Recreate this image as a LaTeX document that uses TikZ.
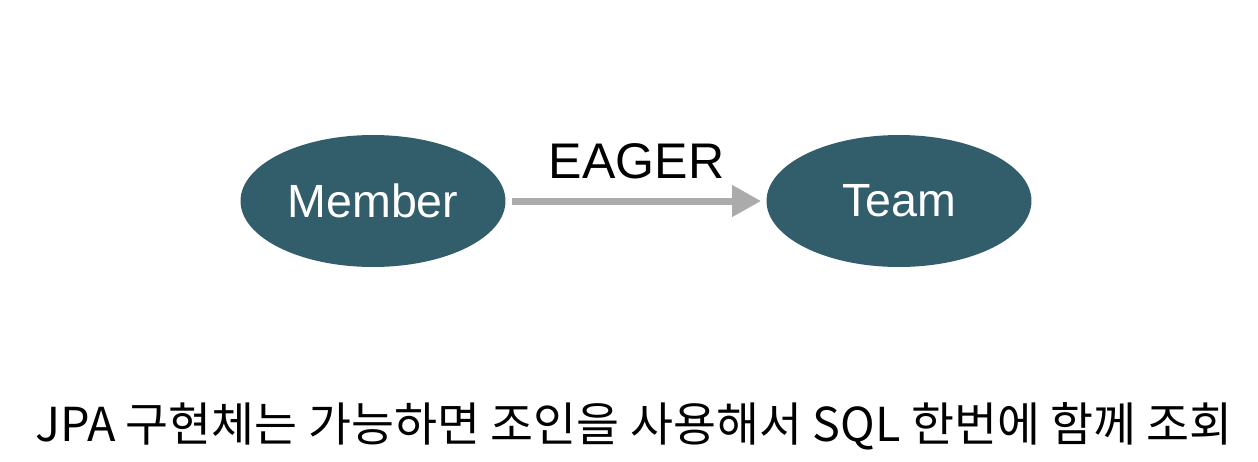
\documentclass[tikz,border=0pt]{standalone}
\usepackage{fontspec}
\setmainfont{Liberation Sans}
\newfontfamily\krfont{Noto Sans CJK KR}
\usetikzlibrary{arrows.meta,shapes.geometric}
\definecolor{entityfill}{HTML}{325D6B}
\definecolor{linkgray}{HTML}{ABABAB}
\tikzset{
    entity/.style={ellipse, fill=entityfill, text=white, minimum width=5.3cm, minimum height=2.64cm, inner sep=0pt, font=\fontsize{26.5}{30}\selectfont},
    fetchlink/.style={-{Triangle[length=0.58cm, width=0.6cm]}, linkgray, line width=0.14cm}
}

\begin{document}
\begin{tikzpicture}[x=0.02cm, y=-0.02cm]
    % Frame
    \useasboundingbox (0,0) rectangle (1258,461);
    % Entities
    \node[entity] (member) at (373,201) {Member};
    \node[entity] (team) at (899,201) {Team};
    
    % Association
    \coordinate (linkstart) at ([xshift=0.12cm]member.east);
    \coordinate (linkend) at ([xshift=-0.1cm]team.west);
    \draw[fetchlink] (linkstart) -- (linkend) node[midway, above=0.25cm, black, font=\fontsize{28.5}{32}\selectfont] (eager) {EAGER};
    % Caption
    \node[font=\krfont\fontsize{26.6}{30}\selectfont] (caption) at (634,426) {JPA 구현체는 가능하면 조인을 사용해서 SQL 한번에 함께 조회};
\end{tikzpicture}
\end{document}
